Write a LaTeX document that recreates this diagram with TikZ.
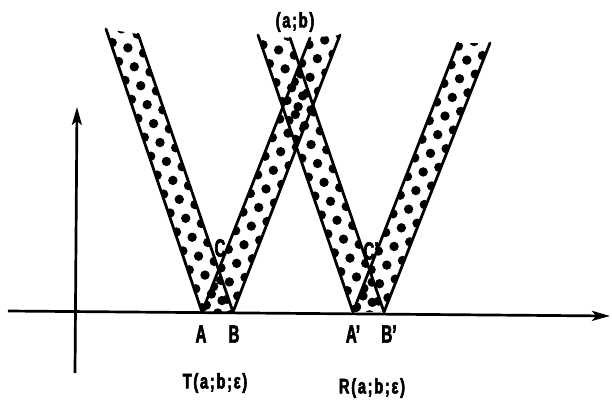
\documentclass[tikz,border=0pt]{standalone}
\usepackage{fontspec}
\usetikzlibrary{arrows.meta}
\newfontfamily\labfont[FakeStretch=0.6,BoldFeatures={FakeBold=2.5}]{Liberation Sans}
\newfontfamily\capfont[FakeStretch=0.7,LetterSpace=8,BoldFeatures={FakeBold=2.5}]{Liberation Sans}
\tikzset{
  edge/.style={line width=2.8pt, line cap=round},
  axisline/.style={line width=2.7pt, -{Stealth[length=18pt,width=10pt,inset=4pt]}},
  lab/.style={font=\labfont\bfseries\fontsize{25}{25}\selectfont, inner sep=0pt},
  caplab/.style={font=\capfont\bfseries\fontsize{21}{21}\selectfont, inner sep=0pt},
}
% #1 xl, #2 xr (bottom, y=312), #3 xtl, #4 ytl, #5 xtr, #6 ytr, #7 phase
\newcommand\bandstrand[7]{%
  \pgfmathsetmacro\dxx{((#3)-(#1))/10}%
  \pgfmathsetmacro\dyy{((#4)-312)/10}%
  \pgfmathsetmacro\lenn{sqrt((\dxx)*(\dxx)+(\dyy)*(\dyy))}%
  \pgfmathsetmacro\ux{(\dxx)/(\lenn)}%
  \pgfmathsetmacro\uy{(\dyy)/(\lenn)}%
  \pgfmathsetmacro\nx{-1*(\uy)}%
  \pgfmathsetmacro\ny{\ux}%
  \pgfmathsetmacro\wid{((#2)-(#1))*(\nx)}%
  \begin{scope}
    \clip (#1,312) -- (#2,312) -- (#5,#6) -- (#3,#4) -- cycle;
    \foreach \i in {-1,...,16}{
      \foreach \m in {0,...,2}{
        \pgfmathsetmacro\uu{20*\i + 10*mod(\m,2) + (#7)}
        \pgfmathsetmacro\vv{1.5+\m*((\wid)-3)/2}
        \pgfmathsetmacro\px{(#1)+(\uu)*(\ux)+(\vv)*(\nx)}
        \pgfmathsetmacro\py{312+(\uu)*(\uy)+(\vv)*(\ny)}
        \fill (\px,\py) circle[radius=4.7];
      }}
  \end{scope}
  \draw[edge] (#1,312) -- (#3,#4);
  \draw[edge] (#2,312) -- (#5,#6);
}
\begin{document}
\begin{tikzpicture}[x=1pt,y=-1pt]
  \path[use as bounding box] (0,0) rectangle (612,402);
  % strands
  \bandstrand{202}{233}{106}{29}{138}{34}{4}
  \bandstrand{202}{233}{310}{38}{340}{35}{8}
  \bandstrand{353}{384}{258}{35}{290}{38}{2}
  \bandstrand{353}{384}{458}{43}{490}{43}{6}
  % axes
  \coordinate (xs) at (8,311);
  \coordinate (xe) at (610,316);
  \coordinate (ys) at (75,373);
  \coordinate (ye) at (77,107);
  \draw[axisline] (xs) -- (xe);
  \draw[axisline] (ys) -- (ye);
  % labels
  \node[lab] (lA) at (201,334) {A};
  \node[lab] (lB) at (234,334) {B};
  \node[lab] (lAp) at (353,334) {A’};
  \node[lab] (lBp) at (389,334) {B’};
  \node[lab] (lC) at (220,248) {C};
  \node[lab] (lCp) at (371,251) {C’};
  \node[caplab] (lab) at (295,22) {(a;b)};
  \node[caplab] (lT) at (215,383) {T(a;b;ε)};
  \node[caplab] (lR) at (372,388) {R(a;b;ε)};
\end{tikzpicture}
\end{document}
